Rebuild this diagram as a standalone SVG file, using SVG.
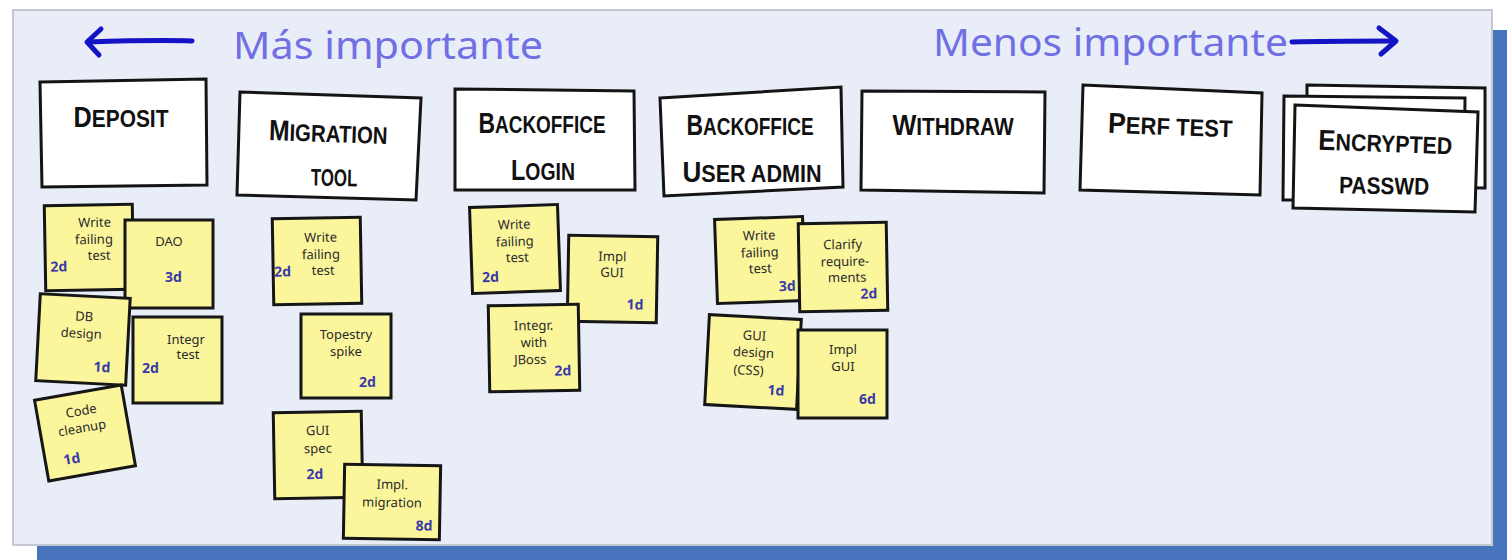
<svg xmlns="http://www.w3.org/2000/svg" width="1507" height="560" viewBox="0 0 1507 560">
<style>
.board{fill:#e9edf8;stroke:#b4b8c4;stroke-width:1.5}
.bar{fill:#4874bd}
.title{font-family:"Comic Sans MS","Noto Sans",sans-serif;font-size:38px;fill:#7070e4}
.arrow{fill:none;stroke:#1414c4;stroke-width:5;stroke-linecap:round;stroke-linejoin:round}
.card polygon{fill:#ffffff;stroke:#141414;stroke-width:3}
.card text{font-family:"Liberation Sans",Arial,sans-serif;font-weight:bold;font-size:24px;fill:#111;text-anchor:middle}
.big{font-size:29px}
.sticky rect{fill:#fbf69c;stroke:#161616;stroke-width:3}
.sticky text{font-family:"Comic Sans MS","Noto Sans",sans-serif;font-size:13px;fill:#2a2a2a;text-anchor:middle}
.sticky text.est{fill:#3a3aa8;font-size:14px;font-weight:bold;text-anchor:start}
</style>

<rect x="0" y="0" width="1507" height="560" fill="#ffffff"/>
<rect class="bar" x="1493" y="30" width="14" height="530"/>
<rect class="bar" x="37" y="546" width="1470" height="14"/>
<rect class="board" x="13" y="10" width="1479" height="535"/>

<g id="header">
  <text class="title" x="233" y="59" textLength="310" lengthAdjust="spacingAndGlyphs">Más importante</text>
  <text class="title" x="933" y="56" textLength="355" lengthAdjust="spacingAndGlyphs">Menos importante</text>
</g>

<g id="connectors">
  <path class="arrow" d="M88,42 C120,41 160,40 192,41"/>
  <path class="arrow" d="M101,29 L87,42 L99,55"/>
  <path class="arrow" d="M1292,42 C1325,41 1360,41 1394,41"/>
  <path class="arrow" d="M1379,28 L1396,41 L1381,54"/>
</g>

<g id="card-deposit" class="card">
  <polygon points="40,82 206,79 207,185 42,187"/>
  <text transform="translate(121,127) scale(0.87,1)"><tspan class="big">D</tspan>EPOSIT</text>
</g>
<g id="card-migration" class="card">
  <polygon points="240,92 421,98 416,200 237,195"/>
  <text transform="translate(328,142) rotate(2) scale(0.85,1)"><tspan class="big">M</tspan>IGRATION</text>
  <text transform="translate(334,186) rotate(1) scale(0.7,1)">TOOL</text>
</g>
<g id="card-backoffice-login" class="card">
  <polygon points="455,89 634,91 635,190 455,190"/>
  <text transform="translate(542,133) scale(0.79,1)"><tspan class="big">B</tspan>ACKOFFICE</text>
  <text transform="translate(543,180) scale(0.81,1)"><tspan class="big">L</tspan>OGIN</text>
</g>
<g id="card-backoffice-admin" class="card">
  <polygon points="660,98 841,87 843,187 664,196"/>
  <text transform="translate(750,135) scale(0.79,1)"><tspan class="big">B</tspan>ACKOFFICE</text>
  <text transform="translate(752,182) scale(0.9,1)"><tspan class="big">U</tspan>SER ADMIN</text>
</g>
<g id="card-withdraw" class="card">
  <polygon points="862,91 1045,92 1044,193 861,190"/>
  <text transform="translate(953,135) scale(0.87,1)"><tspan class="big">W</tspan>ITHDRAW</text>
</g>
<g id="card-perf" class="card">
  <polygon points="1083,85 1262,93 1260,195 1080,190"/>
  <text transform="translate(1170,135) rotate(2) scale(0.92,1)"><tspan class="big">P</tspan>ERF TEST</text>
</g>
<g id="card-encrypted" class="card">
  <polygon points="1307,85 1485,88 1485,188 1307,186"/>
  <polygon points="1284,96 1465,98 1464,200 1283,200"/>
  <polygon points="1295,105 1478,112 1475,212 1293,208"/>
  <text transform="translate(1385,152) rotate(2) scale(0.89,1)"><tspan class="big">E</tspan>NCRYPTED</text>
  <text transform="translate(1384,194) rotate(1) scale(0.87,1)">PASSWD</text>
</g>

<!-- Deposit stickies -->
<g id="d-write" class="sticky" transform="translate(89,247) rotate(-1)">
  <rect x="-44" y="-42" width="88" height="85"/>
  <text x="6" y="-20">Write</text><text x="5" y="-3">failing</text><text x="10" y="13">test</text>
  <text class="est" x="-39" y="24">2d</text>
</g>
<g id="d-dao" class="sticky" transform="translate(169,264)">
  <rect x="-44" y="-44" width="88" height="88"/>
  <text x="0" y="-18">DAO</text>
  <text class="est" x="-4" y="18">3d</text>
</g>
<g id="d-db" class="sticky" transform="translate(83,339) rotate(3)">
  <rect x="-45" y="-43" width="90" height="87"/>
  <text x="0" y="-18">DB</text><text x="-2" y="-1">design</text>
  <text class="est" x="12" y="32">1d</text>
</g>
<g id="d-integr" class="sticky" transform="translate(178,360)">
  <rect x="-45" y="-43" width="89" height="86"/>
  <text x="8" y="-16">Integr</text><text x="10" y="-1">test</text>
  <text class="est" x="-36" y="13">2d</text>
</g>
<g id="d-cleanup" class="sticky" transform="translate(85,433) rotate(-10)">
  <rect x="-44" y="-41" width="88" height="82"/>
  <text x="0" y="-18">Code</text><text x="-2" y="-1">cleanup</text>
  <text class="est" x="-26" y="28">1d</text>
</g>

<!-- Migration stickies -->
<g id="m-write" class="sticky" transform="translate(317,261) rotate(-1)">
  <rect x="-44" y="-43" width="88" height="86"/>
  <text x="4" y="-19">Write</text><text x="4" y="-2">failing</text><text x="6" y="14">test</text>
  <text class="est" x="-43" y="15">2d</text>
</g>
<g id="m-tapestry" class="sticky" transform="translate(346,356)">
  <rect x="-45" y="-42" width="90" height="84"/>
  <text x="0" y="-17">Topestry</text><text x="0" y="0">spike</text>
  <text class="est" x="13" y="31">2d</text>
</g>
<g id="m-gui" class="sticky" transform="translate(318,455) rotate(-1)">
  <rect x="-44" y="-43" width="88" height="86"/>
  <text x="0" y="-20">GUI</text><text x="0" y="-2">spec</text>
  <text class="est" x="-12" y="24">2d</text>
</g>
<g id="m-impl" class="sticky" transform="translate(392,502) rotate(1)">
  <rect x="-48" y="-37" width="96" height="74"/>
  <text x="0" y="-13">Impl.</text><text x="0" y="5">migration</text>
  <text class="est" x="24" y="28">8d</text>
</g>

<!-- Backoffice login stickies -->
<g id="l-write" class="sticky" transform="translate(515,249) rotate(-2)">
  <rect x="-44" y="-43" width="88" height="86"/>
  <text x="0" y="-20">Write</text><text x="0" y="-3">failing</text><text x="2" y="13">test</text>
  <text class="est" x="-34" y="32">2d</text>
</g>
<g id="l-impl" class="sticky" transform="translate(612,279) rotate(1)">
  <rect x="-44" y="-43" width="89" height="86"/>
  <text x="0" y="-18">Impl</text><text x="0" y="-2">GUI</text>
  <text class="est" x="15" y="30">1d</text>
</g>
<g id="l-integr" class="sticky" transform="translate(534,348) rotate(-1)">
  <rect x="-45" y="-43" width="90" height="86"/>
  <text x="0" y="-18">Integr.</text><text x="0" y="-1">with</text><text x="-4" y="16">JBoss</text>
  <text class="est" x="20" y="28">2d</text>
</g>

<!-- Backoffice user admin stickies -->
<g id="u-write" class="sticky" transform="translate(760,260) rotate(-2)">
  <rect x="-44" y="-42" width="88" height="84"/>
  <text x="0" y="-20">Write</text><text x="0" y="-3">failing</text><text x="0" y="13">test</text>
  <text class="est" x="18" y="32">3d</text>
</g>
<g id="u-clarify" class="sticky" transform="translate(843,267) rotate(-1)">
  <rect x="-44" y="-44" width="88" height="88"/>
  <text x="0" y="-18">Clarify</text><text x="2" y="-1">require-</text><text x="4" y="15">ments</text>
  <text class="est" x="17" y="32">2d</text>
</g>
<g id="u-gui" class="sticky" transform="translate(753,362) rotate(3)">
  <rect x="-46" y="-45" width="92" height="90"/>
  <text x="0" y="-22">GUI</text><text x="0" y="-5">design</text><text x="-4" y="13">(CSS)</text>
  <text class="est" x="16" y="32">1d</text>
</g>
<g id="u-impl" class="sticky" transform="translate(843,374)">
  <rect x="-45" y="-44" width="89" height="88"/>
  <text x="0" y="-20">Impl</text><text x="0" y="-3">GUI</text>
  <text class="est" x="16" y="30">6d</text>
</g>
</svg>
